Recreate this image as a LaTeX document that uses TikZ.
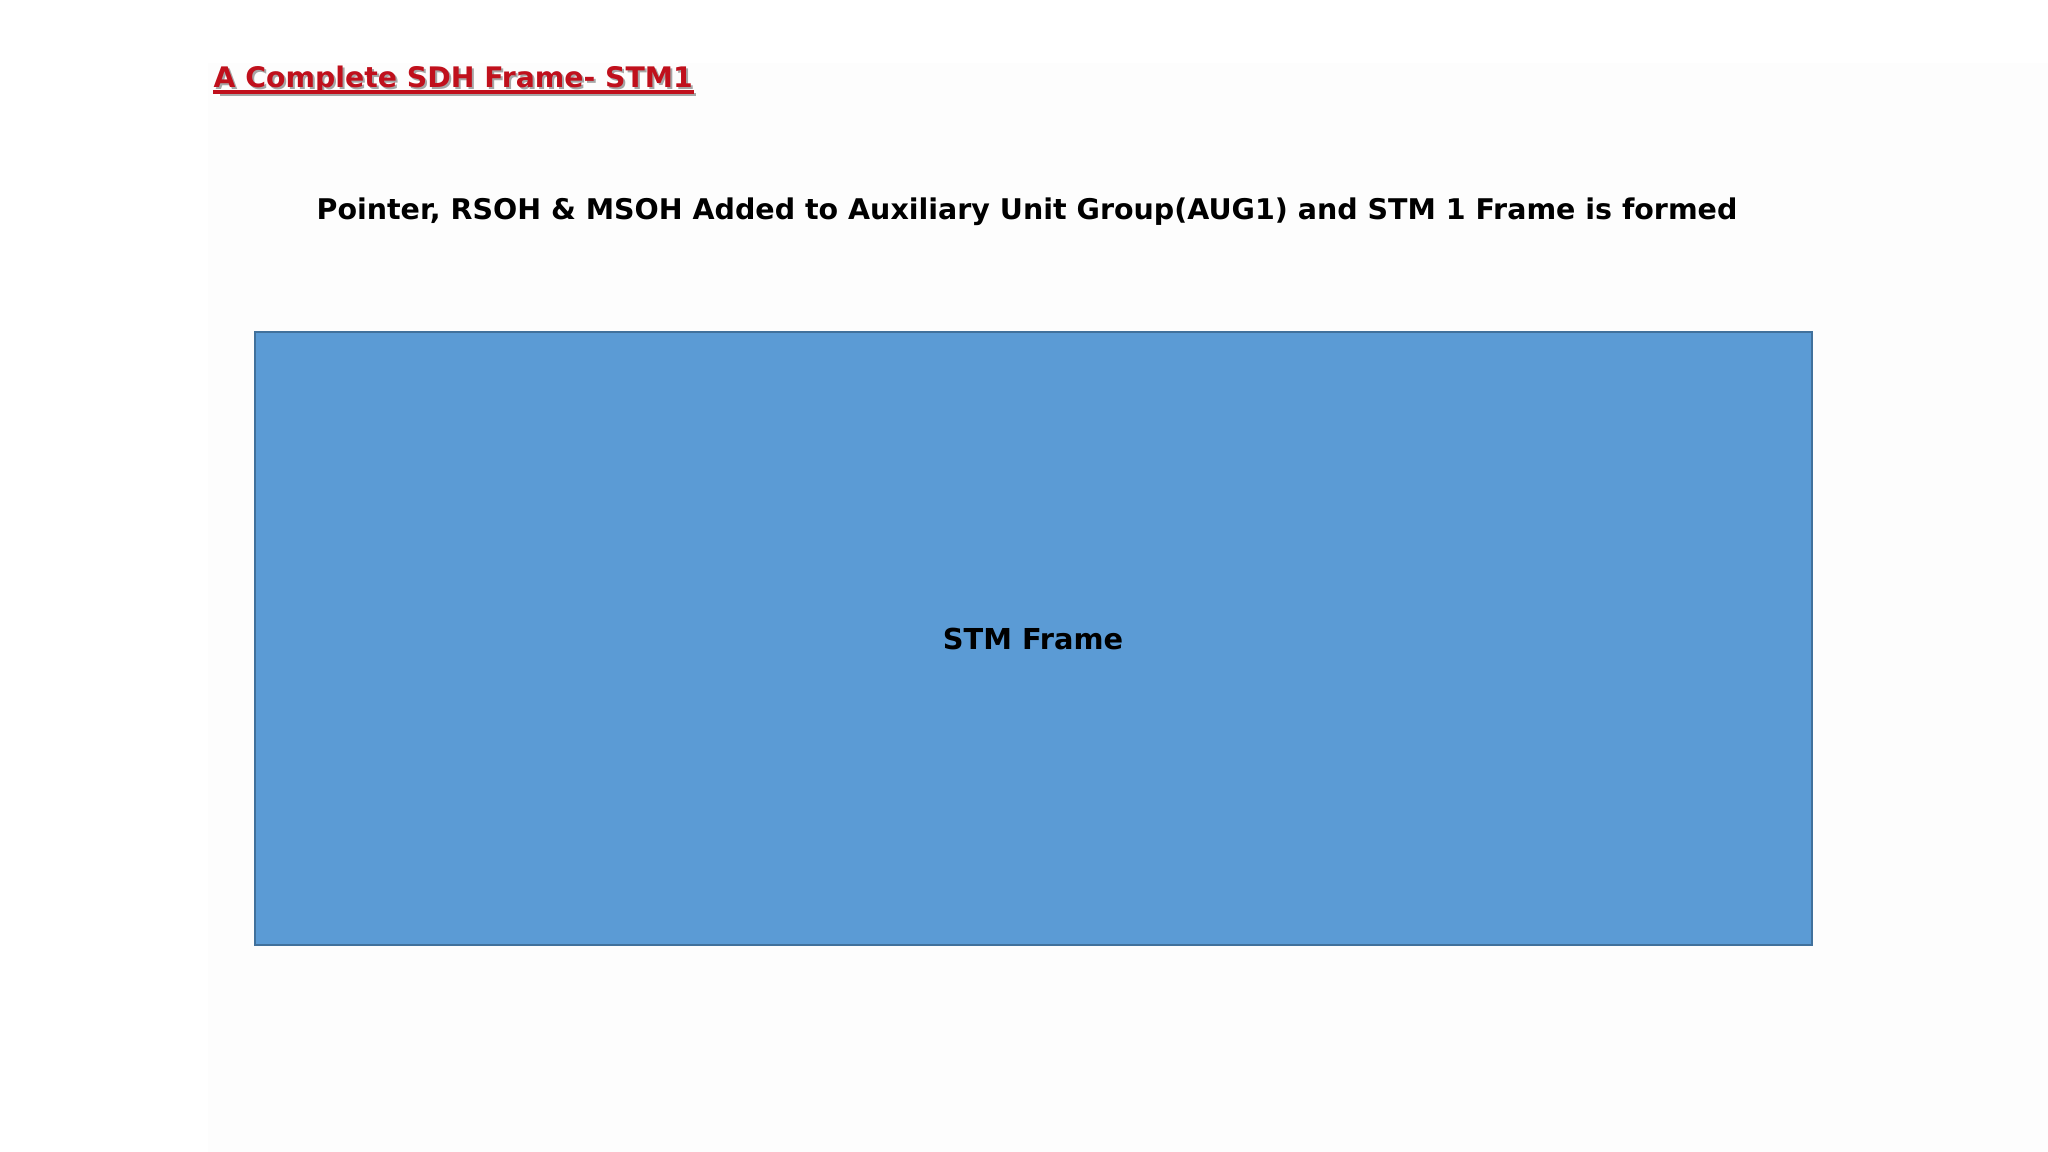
\documentclass[tikz,border=0pt]{standalone}
\usepackage{fontspec}
\setmainfont{DejaVu Sans}
\usetikzlibrary{positioning}
\definecolor{framefill}{HTML}{5B9BD5}
\definecolor{frameedge}{HTML}{41719C}
\definecolor{titlered}{HTML}{C0101C}
\definecolor{slidebg}{HTML}{FDFDFD}

\tikzset{
  headline/.style={font=\bfseries\fontsize{8.2}{10}\selectfont, inner sep=0pt, anchor=base west},
  subline/.style={font=\bfseries\fontsize{8.1}{10}\selectfont, inner sep=0pt}
}

\begin{document}
\begin{tikzpicture}[x=0.01cm, y=-0.01cm]
    \useasboundingbox (0,0) rectangle (2048,1152);
    \fill[white] (0,0) rectangle (2048,1152);
    \fill[slidebg] (208,63) rectangle (2048,1152);

    % title with its shadow
    \node[headline, font=\bfseries\fontsize{8.05}{10}\selectfont, text=black!35] (titleshadow) at (215,90) {A Complete SDH Frame- STM1};
    \node[headline, font=\bfseries\fontsize{8.05}{10}\selectfont, text=titlered] (title) at (213,88) {A Complete SDH Frame- STM1};
    \draw[black!35, line width=1pt] ([xshift=2pt,yshift=-1.8pt]title.base west) -- ([xshift=0.6pt,yshift=-1.8pt]title.base east);
    \draw[titlered, line width=1pt] ([yshift=-1.2pt]title.base west) -- ([yshift=-1.2pt]title.base east);

    \node[subline] (caption) at (1027,212) {Pointer, RSOH \& MSOH Added to Auxiliary Unit Group(AUG1) and STM 1 Frame is formed};

    % the frame
    \coordinate (nw) at (255,332);
    \coordinate (se) at (1812,945);
    \draw[frameedge, line width=0.6pt, fill=framefill] (nw) rectangle (se);
    \node[headline, anchor=center] (stm) at (1033,639) {STM Frame};
\end{tikzpicture}
\end{document}
